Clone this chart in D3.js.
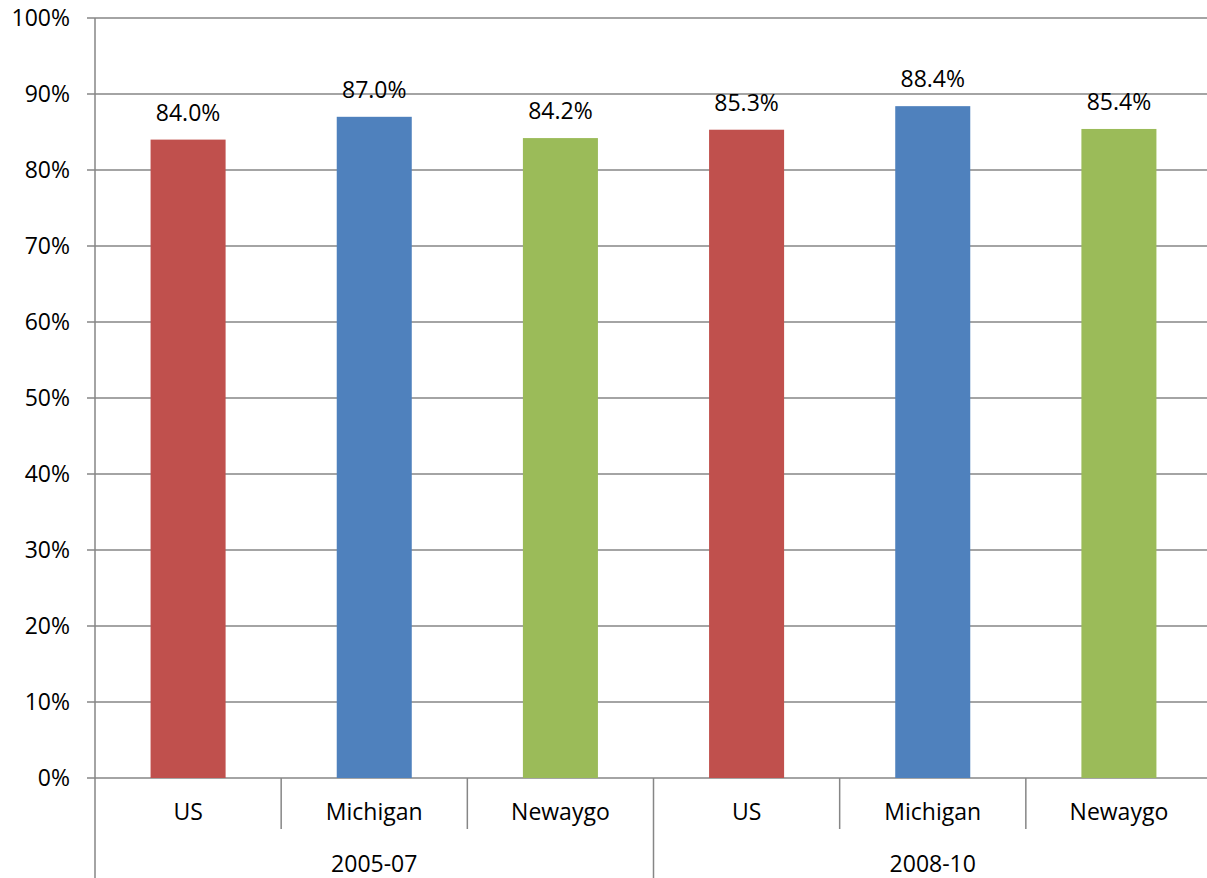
<!DOCTYPE html>
<html>
<head>
<meta charset="utf-8">
<script src="https://cdn.jsdelivr.net/npm/d3@7"></script>
<style>
  body { margin: 0; background: #fff; }
  svg text { font-family: "Open Sans", "Noto Sans", sans-serif; fill: #000; font-size: 23px; }
</style>
</head>
<body>
<div id="chart"></div>
<script>
var groups = ["2005-07", "2008-10"];
var places = ["US", "Michigan", "Newaygo"];
var values2005 = [84.0, 87.0, 84.2];
var values2008 = [85.3, 88.4, 85.4];
var colors = ["#C0504D", "#4F81BD", "#9BBB59"];
var yTicks = [0, 10, 20, 30, 40, 50, 60, 70, 80, 90, 100];

var width = 1207, height = 878;
var plotLeft = 95, plotRight = 1212, plotTop = 18, plotBottom = 778;
var gridColor = "#868686";

var rows = [];
[values2005, values2008].forEach(function (vals, g) {
    vals.forEach(function (v, i) {
        rows.push({ group: groups[g], place: places[i], key: g + "-" + i, value: v, color: colors[i] });
    });
});

var svg = d3.select("#chart").append("svg")
    .attr("width", width)
    .attr("height", height);

var x = d3.scaleBand()
    .domain(rows.map(function (d) { return d.key; }))
    .range([plotLeft, plotRight])
    .paddingInner(0.597)
    .paddingOuter(0.2985);

var y = d3.scaleLinear().domain([0, 100]).range([plotBottom, plotTop]);

// gridlines + y axis ticks
svg.selectAll(".grid")
    .data(yTicks)
    .enter()
    .append("line")
    .attr("x1", plotLeft - 8)
    .attr("x2", plotRight)
    .attr("y1", function (d) { return y(d); })
    .attr("y2", function (d) { return y(d); })
    .attr("stroke", gridColor)
    .attr("stroke-width", 1.5);

svg.selectAll(".ylab")
    .data(yTicks)
    .enter()
    .append("text")
    .attr("x", plotLeft - 25)
    .attr("y", function (d) { return y(d) + 8; })
    .attr("text-anchor", "end")
    .text(function (d) { return d + "%"; });

// y axis line
svg.append("line")
    .attr("x1", plotLeft).attr("x2", plotLeft)
    .attr("y1", plotTop).attr("y2", height)
    .attr("stroke", gridColor)
    .attr("stroke-width", 1.5);

// bars
svg.selectAll(".bar")
    .data(rows)
    .enter()
    .append("rect")
    .attr("x", function (d) { return x(d.key); })
    .attr("y", function (d) { return y(d.value); })
    .attr("width", x.bandwidth())
    .attr("height", function (d) { return y(0) - y(d.value); })
    .attr("fill", function (d) { return d.color; });

svg.selectAll(".val")
    .data(rows)
    .enter()
    .append("text")
    .attr("x", function (d) { return x(d.key) + x.bandwidth() / 2; })
    .attr("y", function (d) { return y(d.value) - 19; })
    .attr("text-anchor", "middle")
    .text(function (d) { return d.value.toFixed(1) + "%"; });

// category axis
var step = x.step();
rows.forEach(function (d, i) {
    if (i === 0) return;
    var bx = plotLeft + step * i;
    var isGroupEdge = i % places.length === 0;
    svg.append("line")
        .attr("x1", bx).attr("x2", bx)
        .attr("y1", plotBottom).attr("y2", isGroupEdge ? height : 829)
        .attr("stroke", gridColor)
        .attr("stroke-width", 1.5);
});

svg.selectAll(".cat")
    .data(rows)
    .enter()
    .append("text")
    .attr("x", function (d) { return x(d.key) + x.bandwidth() / 2; })
    .attr("y", 820)
    .attr("text-anchor", "middle")
    .text(function (d) { return d.place; });

svg.selectAll(".grp")
    .data(groups)
    .enter()
    .append("text")
    .attr("x", function (d, g) { return plotLeft + step * places.length * (g + 0.5); })
    .attr("y", 872)
    .attr("text-anchor", "middle")
    .text(function (d) { return d; });
</script>
</body>
</html>
